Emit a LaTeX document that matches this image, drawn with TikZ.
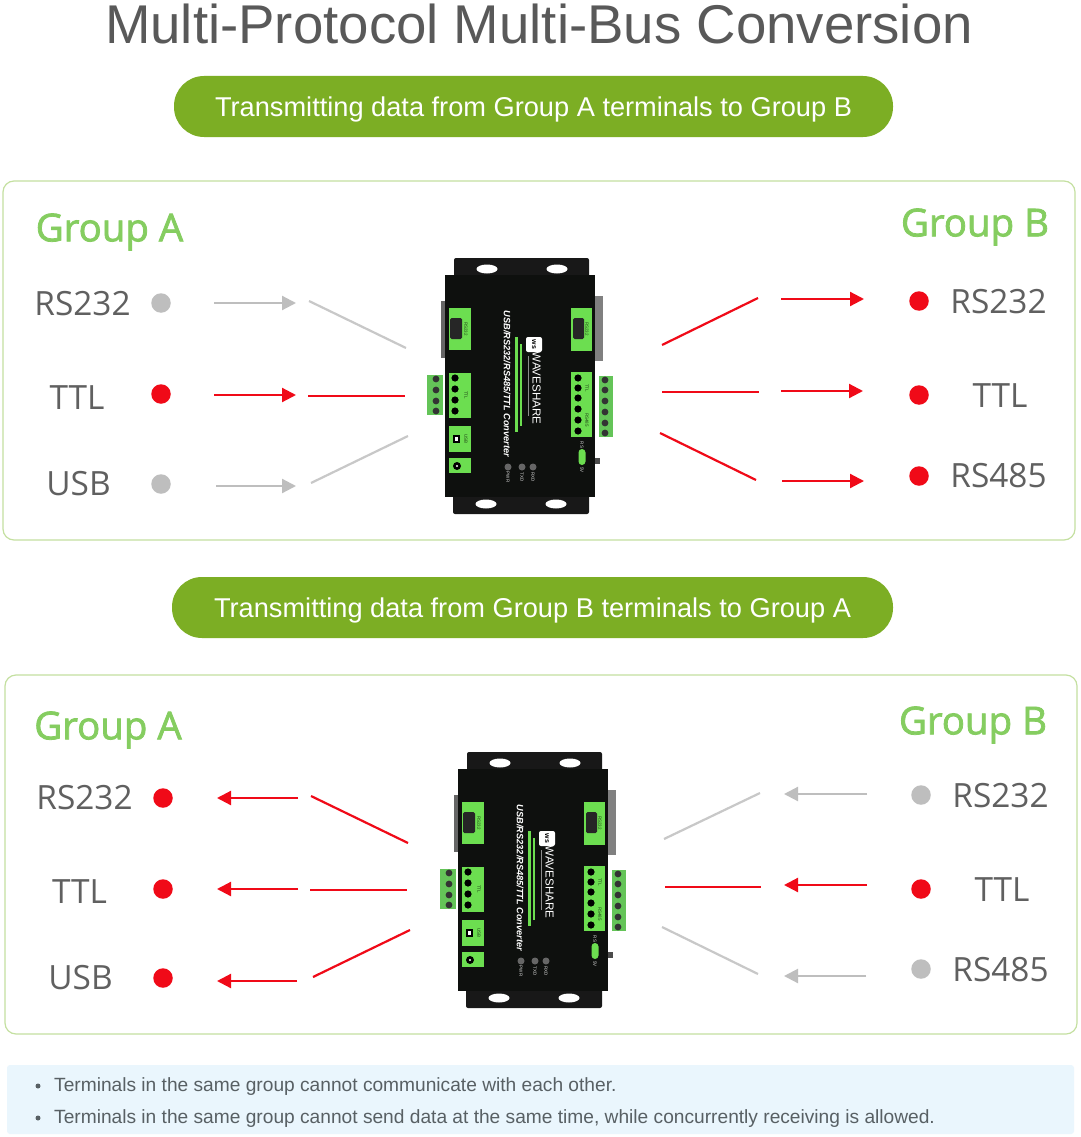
\documentclass[tikz,border=0pt]{standalone}
\usepackage{fontspec}
\setmainfont{Liberation Sans}
\newfontfamily\labelfont{Open Sans}
\newfontface\groupfont[FakeBold=2]{Open Sans}
\usetikzlibrary{arrows.meta}
\definecolor{TitleGrey}{RGB}{89,89,89}
\definecolor{PillGreen}{RGB}{124,174,36}
\definecolor{EdgeGreen}{RGB}{196,224,160}
\definecolor{GroupGreen}{RGB}{133,205,96}
\definecolor{LabelGrey}{RGB}{96,96,96}
\definecolor{OffGrey}{RGB}{190,190,190}
\definecolor{OnRed}{RGB}{240,10,24}
\definecolor{NoteBlue}{RGB}{234,246,253}
\definecolor{NoteText}{RGB}{88,96,100}
\definecolor{BodyBlack}{RGB}{14,16,14}
\definecolor{FlangeBlack}{RGB}{24,24,24}
\definecolor{PortGreen}{RGB}{108,222,80}
\definecolor{PlugGreen}{RGB}{100,196,88}
\tikzset{
  converter/.pic={
    \fill[FlangeBlack, rounded corners=2pt] (-66,-128) rectangle (69,-100);
    \fill[FlangeBlack, rounded corners=2pt] (-67,100) rectangle (69,128);
    \fill[white] (-33,-117) ellipse (10.5 and 4.5) (37,-117) ellipse (10.5 and 4.5);
    \fill[white] (-34,118) ellipse (10.5 and 4.5) (36,118) ellipse (10.5 and 4.5);
    % ports sticking out at the sides
    \fill[black!60] (-79,-85) rectangle (-74,-28);
    \fill[black!50] (75,-90) rectangle (83,-25);
    \fill[PlugGreen] (-93,-11) rectangle (-77,29);
    \fill[PlugGreen] (79,-10) rectangle (93,51);
    \fill[black!80] (-84,-7) circle (3.4) (-84,4) circle (3.4) (-84,15) circle (3.4) (-84,25) circle (3.4);
    \fill[black!80] (85,-6) circle (3.4) (85,4) circle (3.4) (85,15) circle (3.4) (85,26) circle (3.4) (85,37) circle (3.4) (85,47) circle (3.4);
    \fill[BodyBlack] (-75,-111) rectangle (75,111);
    % green fields on the housing
    \fill[PortGreen] (-71,-78) rectangle (-49,-36);
    \fill[PortGreen] (-71,-13) rectangle (-49,32);
    \fill[PortGreen] (-71,40) rectangle (-49,66);
    \fill[PortGreen] (-71,72) rectangle (-49,87);
    \fill[PortGreen] (51,-78) rectangle (72,-35);
    \fill[PortGreen] (51,-14) rectangle (72,51);
    \fill[black!85, rounded corners=1.5pt] (-70,-68) rectangle (-58,-47);
    \fill[black!85, rounded corners=1.5pt] (53,-68) rectangle (64,-47);
    \fill[black] (-65,-8) circle (3.6) (-65,3) circle (3.6) (-65,14) circle (3.6) (-65,25) circle (3.6);
    \fill[black] (58,-8) circle (3.6) (58,2) circle (3.6) (58,12) circle (3.6) (58,23) circle (3.6) (58,34) circle (3.6) (58,45) circle (3.6);
    \fill[black] (-67,49) rectangle (-60,57);
    \fill[white] (-65,51) rectangle (-62,55);
    \fill[black] (-63,80) circle (4);
    \fill[white] (-63,80) circle (1.2);
    \node[PortText] (rsl) at (-54,-57) {RS232};
    \node[PortText] (ttll) at (-54,9) {TTL};
    \node[PortText] (usbl) at (-54,53) {USB};
    \node[PortText] (rsr) at (67,-57) {RS232};
    \node[PortText] (ttlr) at (67,2) {TTL};
    \node[PortText] (rs4r) at (67,34) {RS485};
    % print on the lid
    \node[rotate=-90, text=white, font=\bfseries\itshape\fontsize{9.2}{10}\selectfont, inner sep=0pt] (name) at (-13,-2) {USB/RS232/RS485/TTL Converter};
    \fill[PortGreen] (-5,-49) rectangle (-2,46);
    \fill[PortGreen] (0,-42) rectangle (1.5,40);
    \fill[white, rounded corners=2pt] (6,-49) rectangle (22,-34);
    \node[rotate=-90, text=black, font=\bfseries\fontsize{7}{8}\selectfont, inner sep=0pt] (logo) at (14,-41.5) {ws};
    \node[rotate=-90, text=white, font=\fontsize{11.6}{14}\selectfont, inner sep=0pt] (brand) at (16.5,2) {WAVESHARE};
    \fill[black!45] (7.5,-30) rectangle (9,30);
    \fill[black!60] (-12,81) circle (3.5) (2,81) circle (3.5) (13,81) circle (3.5);
    \node[LedText] (pwr) at (-12,91) {PWR};
    \node[LedText] (txd) at (2,91) {TXD};
    \node[LedText] (rxd) at (13,91) {RXD};
    \fill[PortGreen, rounded corners=3.5pt] (58.5,63) rectangle (65.5,79);
    \fill[black!70] (75,72) rectangle (80,78);
    \node[LedText] (sela) at (62,59) {RS};
    \node[LedText] (selb) at (62,84) {5V};
  }
}
\begin{document}
\begin{tikzpicture}[x=1pt, y=-1pt,
  Pfeil/.style={line width=2.2pt, arrows = -{Triangle[length=14pt, width=14pt]}},
  OnPfeil/.style={Pfeil, draw=OnRed},
  OffPfeil/.style={Pfeil, draw=OffGrey},
  OnLine/.style={line width=2.2pt, draw=OnRed},
  OffLine/.style={line width=2.2pt, draw=OffGrey!85},
  OnDot/.style={circle, fill=OnRed, minimum size=19.5pt, inner sep=0pt},
  OffDot/.style={circle, fill=OffGrey, minimum size=19.5pt, inner sep=0pt},
  Panel/.style={draw=EdgeGreen, line width=1.2pt, rounded corners=11pt, minimum width=1072pt, minimum height=359pt, inner sep=0pt},
  Pill/.style={fill=PillGreen, rounded corners=30pt, minimum height=61pt, text=white, inner sep=0pt, text height=25pt, text depth=5pt, font=\fontsize{27.2}{30}\selectfont},
  Group/.style={text=GroupGreen, font=\groupfont\fontsize{38.4}{44}\selectfont, inner sep=0pt},
  Port/.style={text=LabelGrey, font=\labelfont\fontsize{33.4}{36}\selectfont, inner sep=0pt},
  Note/.style={text=NoteText, anchor=west, inner sep=0pt, font=\fontsize{19.16}{22}\selectfont},
  PortText/.style={rotate=-90, text=black!70!PortGreen, font=\fontsize{4.5}{5}\selectfont, inner sep=0pt},
  LedText/.style={rotate=-90, text=white!85!black, font=\fontsize{4.5}{5}\selectfont, inner sep=0pt}]
\useasboundingbox (0,0) rectangle (1080,1137);
\fill[white] (0,0) rectangle (1080,1137);
\node[text=TitleGrey, font=\fontsize{54.6}{60}\selectfont, inner sep=0pt] (title) at (539,24) {Multi-Protocol Multi-Bus Conversion};
% first case
\node[Pill, minimum width=719pt] (pillA) at (533.5,106.5) {Transmitting data from Group A terminals to Group B};
\node[Panel] (panelA) at (539,360.5) {};
\node[Group] (gaA) at (109.5,232) {Group A};
\node[Group] (gbA) at (975,227) {Group B};
\node[Port] (rsaA) at (82.5,304) {RS232};
\node[Port] (ttlaA) at (77,398) {TTL};
\node[Port] (usbaA) at (78.5,484) {USB};
\node[Port] (rsbA) at (998.5,302) {RS232};
\node[Port] (ttlbA) at (1000,396) {TTL};
\node[Port] (rs4bA) at (998.5,476) {RS485};
\node[OffDot] (d1) at (161,303) {};
\node[OnDot] (d2) at (161,394) {};
\node[OffDot] (d3) at (161,484) {};
\node[OnDot] (d4) at (919,301) {};
\node[OnDot] (d5) at (919,395) {};
\node[OnDot] (d6) at (919,476) {};
\pic at (520,386) {converter};
\coordinate (a1) at (214,303); \coordinate (b1) at (296,303); \draw[OffPfeil] (a1) to (b1);
\coordinate (a2) at (214,395); \coordinate (b2) at (296,395); \draw[OnPfeil] (a2) to (b2);
\coordinate (a3) at (216,486); \coordinate (b3) at (296,486); \draw[OffPfeil] (a3) to (b3);
\coordinate (a4) at (309,301); \coordinate (b4) at (406,348); \draw[OffLine] (a4) to (b4);
\coordinate (a5) at (308,396); \coordinate (b5) at (405,396); \draw[OnLine] (a5) to (b5);
\coordinate (a6) at (311,483); \coordinate (b6) at (408,436); \draw[OffLine] (a6) to (b6);
\coordinate (a7) at (662,345); \coordinate (b7) at (758,298); \draw[OnLine] (a7) to (b7);
\coordinate (a8) at (662,392); \coordinate (b8) at (759,392); \draw[OnLine] (a8) to (b8);
\coordinate (a9) at (660,433); \coordinate (b9) at (756,480); \draw[OnLine] (a9) to (b9);
\coordinate (a10) at (781,299); \coordinate (b10) at (864,299); \draw[OnPfeil] (a10) to (b10);
\coordinate (a11) at (781,391); \coordinate (b11) at (863,391); \draw[OnPfeil] (a11) to (b11);
\coordinate (a12) at (782,481); \coordinate (b12) at (864,481); \draw[OnPfeil] (a12) to (b12);
% second case
\node[Pill, minimum width=721pt] (pillB) at (532.5,607.5) {Transmitting data from Group B terminals to Group A};
\node[Panel] (panelB) at (541,854.5) {};
\node[Group] (gaB) at (108,730) {Group A};
\node[Group] (gbB) at (973,725) {Group B};
\node[Port] (rsaB) at (84.5,798) {RS232};
\node[Port] (ttlaB) at (79.5,892) {TTL};
\node[Port] (usbaB) at (80.5,978) {USB};
\node[Port] (rsbB) at (1000.5,796) {RS232};
\node[Port] (ttlbB) at (1002,890) {TTL};
\node[Port] (rs4bB) at (1000.5,970) {RS485};
\node[OnDot] (e1) at (163,798) {};
\node[OnDot] (e2) at (163,889) {};
\node[OnDot] (e3) at (163,978) {};
\node[OffDot] (e4) at (921,795) {};
\node[OnDot] (e5) at (921,889) {};
\node[OffDot] (e6) at (921,969) {};
\pic at (533,880) {converter};
\coordinate (f1) at (298,798); \coordinate (g1) at (217,798); \draw[OnPfeil] (f1) to (g1);
\coordinate (f2) at (298,889); \coordinate (g2) at (217,889); \draw[OnPfeil] (f2) to (g2);
\coordinate (f3) at (297,981); \coordinate (g3) at (217,981); \draw[OnPfeil] (f3) to (g3);
\coordinate (f4) at (311,796); \coordinate (g4) at (408,843); \draw[OnLine] (f4) to (g4);
\coordinate (f5) at (310,890); \coordinate (g5) at (407,890); \draw[OnLine] (f5) to (g5);
\coordinate (f6) at (313,977); \coordinate (g6) at (410,930); \draw[OnLine] (f6) to (g6);
\coordinate (f7) at (664,839); \coordinate (g7) at (760,793); \draw[OffLine] (f7) to (g7);
\coordinate (f8) at (665,887); \coordinate (g8) at (761,887); \draw[OnLine] (f8) to (g8);
\coordinate (f9) at (662,927); \coordinate (g9) at (758,974); \draw[OffLine] (f9) to (g9);
\coordinate (f10) at (867,794); \coordinate (g10) at (784,794); \draw[OffPfeil] (f10) to (g10);
\coordinate (f11) at (867,885); \coordinate (g11) at (784,885); \draw[OnPfeil] (f11) to (g11);
\coordinate (f12) at (866,976); \coordinate (g12) at (784,976); \draw[OffPfeil] (f12) to (g12);
% notes
\fill[NoteBlue, rounded corners=3pt] (7,1065) rectangle (1074,1134);
\fill[NoteText] (38,1086) circle (2.5) (38,1118) circle (2.5);
\node[Note] (note1) at (54,1087) {Terminals in the same group cannot communicate with each other.};
\node[Note] (note2) at (54,1119) {Terminals in the same group cannot send data at the same time, while concurrently receiving is allowed.};
\end{tikzpicture}
\end{document}
